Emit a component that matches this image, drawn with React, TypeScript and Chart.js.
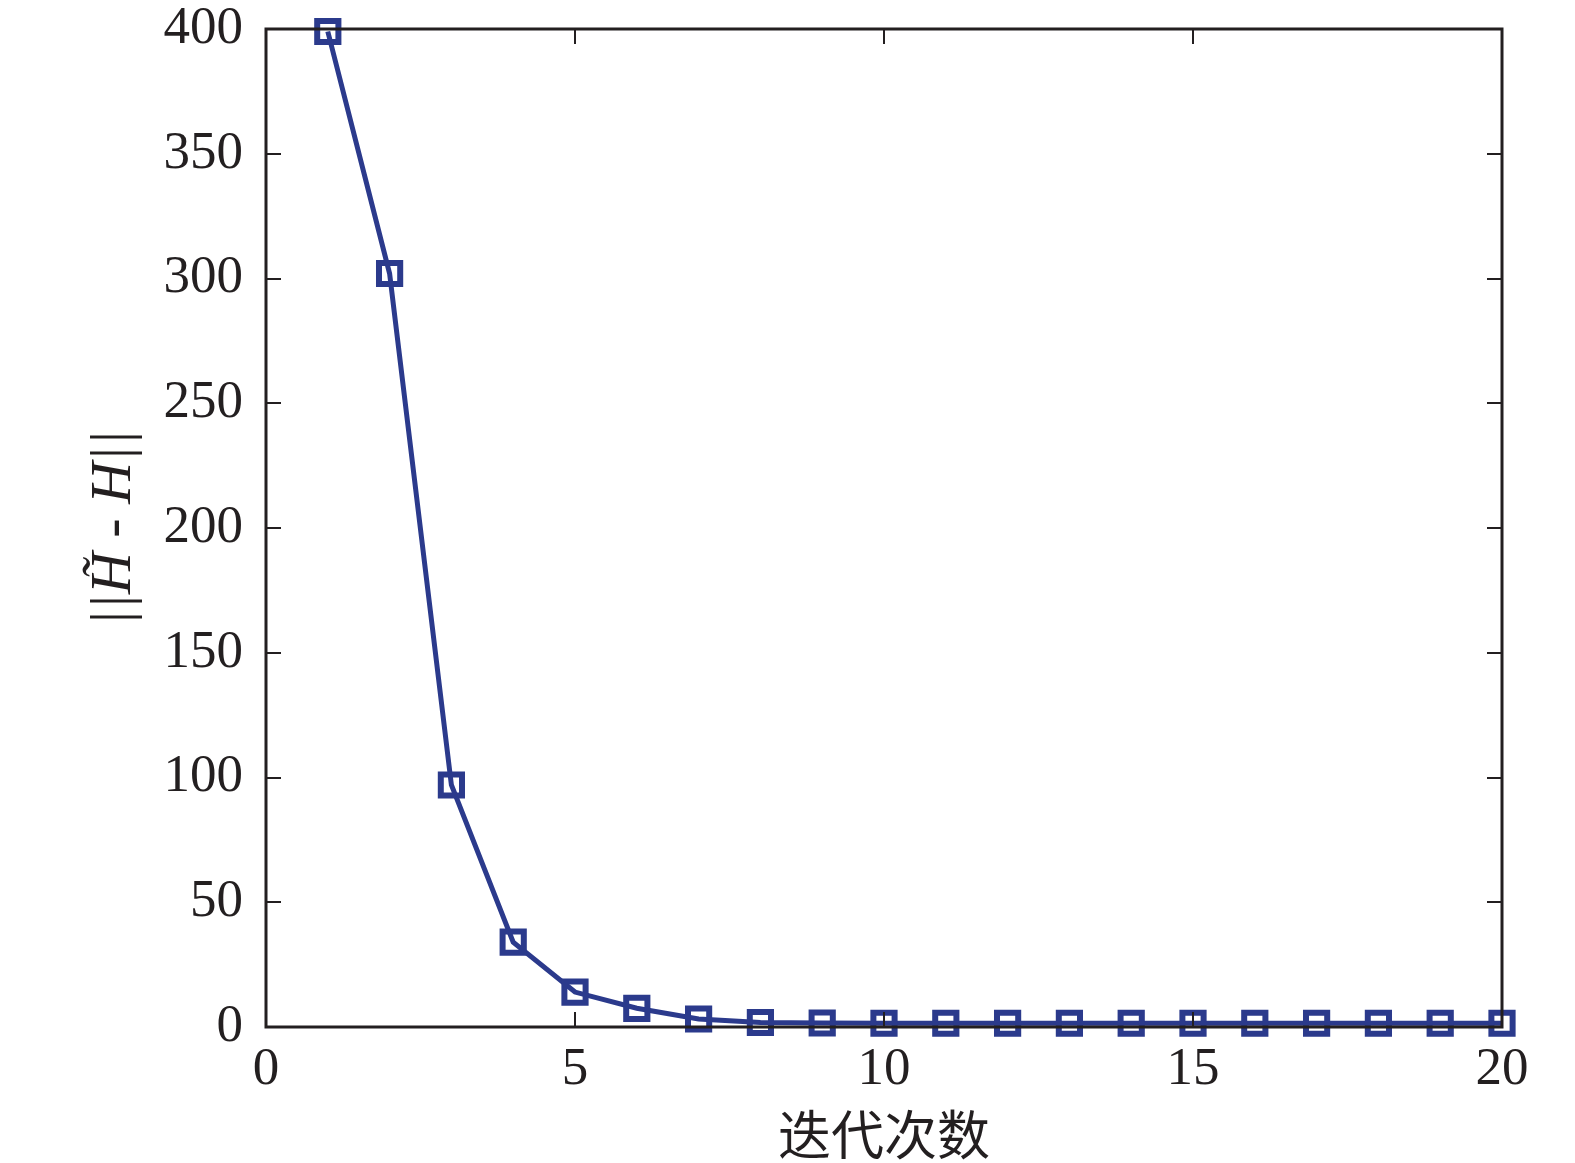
import React, { useEffect, useRef } from "react";
import { Chart, registerables } from "chart.js";

Chart.register(...registerables);

const iterations = [1, 2, 3, 4, 5, 6, 7, 8, 9, 10, 11, 12, 13, 14, 15, 16, 17, 18, 19, 20];
const errorValues = [399, 302, 97, 34, 14, 7.5, 3.2, 1.8, 1.6, 1.5, 1.5, 1.5, 1.5, 1.5, 1.5, 1.5, 1.5, 1.5, 1.5, 1.5];
const xTickStep = 5;
const yTickStep = 50;
const xTitle = "迭代次数";
const yTitle = "||H\u0303 - H||";

const W = 1575;
const H = 1163;
const PLOT_LEFT = 266;
const PLOT_TOP = 29;
const PLOT_RIGHT = 1502;
const PLOT_BOTTOM = 1027;

const frameTicks = {
  id: "frameTicks",
  afterDatasetsDraw(chart: any) {
    const { ctx, chartArea } = chart;
    const xs = chart.scales.x;
    const ys = chart.scales.y;
    const len = 15;
    ctx.save();
    ctx.strokeStyle = "#231f20";
    ctx.lineWidth = 2;
    ctx.beginPath();
    xs.ticks.forEach((t: any) => {
      const px = Math.round(xs.getPixelForValue(t.value));
      ctx.moveTo(px, chartArea.bottom);
      ctx.lineTo(px, chartArea.bottom - len);
      ctx.moveTo(px, chartArea.top);
      ctx.lineTo(px, chartArea.top + len);
    });
    ys.ticks.forEach((t: any) => {
      const py = Math.round(ys.getPixelForValue(t.value));
      ctx.moveTo(chartArea.left, py);
      ctx.lineTo(chartArea.left + len, py);
      ctx.moveTo(chartArea.right, py);
      ctx.lineTo(chartArea.right - len, py);
    });
    ctx.stroke();
    ctx.lineWidth = 3;
    ctx.strokeRect(chartArea.left, chartArea.top, chartArea.right - chartArea.left, chartArea.bottom - chartArea.top);
    ctx.restore();
  },
};

export default function App() {
  const ref = useRef<HTMLCanvasElement | null>(null);
  useEffect(() => {
    if (!ref.current) return;
    const chart = new Chart(ref.current, {
      type: "line",
      data: {
        datasets: [
          {
            data: iterations.map((x, i) => ({ x, y: errorValues[i] })),
            borderColor: "#2b3a8c",
            backgroundColor: "rgba(0,0,0,0)",
            borderWidth: 5,
            pointStyle: "rect",
            pointRadius: 15,
            pointBorderWidth: 6,
            pointBorderColor: "#2b3a8c",
            pointBackgroundColor: "rgba(0,0,0,0)",
            tension: 0,
            clip: false as any,
          },
        ],
      },
      options: {
        animation: false,
        responsive: false,
        maintainAspectRatio: false,
        devicePixelRatio: 1,
        layout: { padding: { left: 0, top: PLOT_TOP, right: W - PLOT_RIGHT, bottom: 0 } },
        plugins: { legend: { display: false }, tooltip: { enabled: false } },
        scales: {
          x: {
            type: "linear",
            min: 0,
            max: 20,
            border: { display: false },
            grid: { display: false, drawTicks: false },
            ticks: {
              stepSize: xTickStep,
              padding: 11,
              color: "#231f20",
              font: { family: "'Liberation Serif', serif", size: 53 },
              maxRotation: 0,
            },
            title: {
              display: true,
              text: xTitle,
              color: "#231f20",
              font: { family: "'Noto Sans CJK SC', sans-serif", size: 53, lineHeight: 1 },
              padding: { top: 0, bottom: 2 },
            },
            afterFit: (s: any) => {
              s.height = H - PLOT_BOTTOM;
              s.paddingLeft = 0;
              s.paddingRight = 0;
            },
          },
          y: {
            type: "linear",
            min: 0,
            max: 400,
            border: { display: false },
            grid: { display: false, drawTicks: false },
            ticks: {
              stepSize: yTickStep,
              padding: 23,
              color: "#231f20",
              font: { family: "'Liberation Serif', serif", size: 53 },
            },
            title: {
              display: true,
              text: yTitle,
              color: "#231f20",
              font: { family: "'Liberation Serif', serif", size: 58, style: "italic", lineHeight: 1 },
              padding: { top: 86, bottom: 0 },
            },
            afterFit: (s: any) => {
              s.width = PLOT_LEFT;
              s.paddingTop = 0;
              s.paddingBottom = 0;
            },
          },
        },
      },
      plugins: [frameTicks],
    });
    return () => chart.destroy();
  }, []);
  return (
    <div style={{ position: "fixed", left: 0, top: 0, width: W, height: H, background: "#fff" }}>
      <canvas ref={ref} width={W} height={H} style={{ width: W, height: H, display: "block" }} />
    </div>
  );
}
